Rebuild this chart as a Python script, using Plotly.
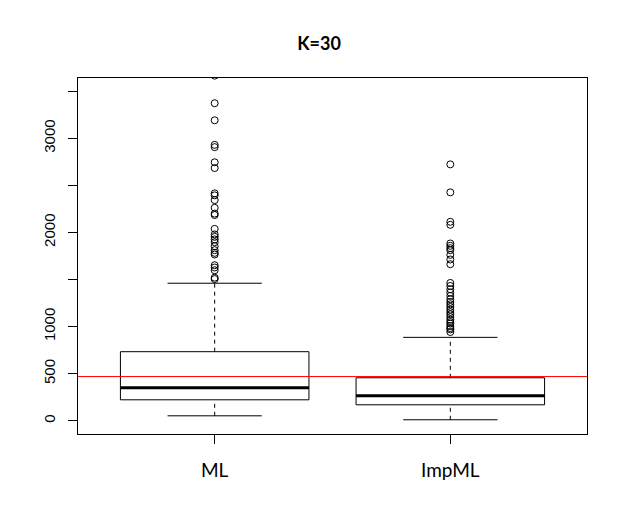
import plotly.graph_objects as go

# ---- data ----
categories = ["ML", "ImpML"]
q1 = [223, 170]
medians = [350, 266]
q3 = [734, 457]
lower_whisker = [53, 11]
upper_whisker = [1461, 886]

ml_outliers = [3665, 3372, 3191, 2930, 2906, 2745, 2684, 2415, 2394, 2344, 2262,
               2200, 2185, 2038, 1979, 1953, 1926, 1897, 1854, 1812, 1783, 1766,
               1652, 1628, 1599, 1520, 1505]
impml_outliers = [2723, 2426, 2113, 2081, 1883, 1858, 1833, 1812, 1762, 1713, 1663,
                  1464, 1432, 1397, 1362, 1326, 1290, 1262, 1237, 1209, 1181, 1155,
                  1131, 1102, 1074, 1049, 1032, 1006, 985, 971, 943]
outliers = [ml_outliers, impml_outliers]

reference_value = 470
title_text = "K=30"
y_tickvals = [0, 500, 1000, 1500, 2000, 2500, 3000, 3500]
y_ticktext = ["0", "500", "1000", "", "2000", "", "3000", ""]

# ---- styling constants ----
BOX_W = 0.8
CAP_HALF = BOX_W / 4
positions = [i + 1 for i in range(len(categories))]
FIG_W, FIG_H = 619, 524   # page body has an 8px margin

fig = go.Figure()

for i, pos in enumerate(positions):
    fig.add_trace(go.Box(
        x=[pos], q1=[q1[i]], median=[medians[i]], q3=[q3[i]],
        lowerfence=[q1[i]], upperfence=[q3[i]],
        width=BOX_W, whiskerwidth=0,
        line=dict(color="black", width=1),
        fillcolor="rgba(255,255,255,0)",
        boxpoints=False, hoverinfo="skip", showlegend=False,
    ))
    for a, b in ((q3[i], upper_whisker[i]), (lower_whisker[i], q1[i])):
        fig.add_trace(go.Scatter(
            x=[pos, pos], y=[a, b], mode="lines",
            line=dict(color="black", width=1, dash="4px,4px"),
            hoverinfo="skip", showlegend=False,
        ))
    for yv in (upper_whisker[i], lower_whisker[i]):
        fig.add_trace(go.Scatter(
            x=[pos - CAP_HALF, pos + CAP_HALF], y=[yv, yv], mode="lines",
            line=dict(color="black", width=1),
            hoverinfo="skip", showlegend=False,
        ))
    fig.add_trace(go.Scatter(
        x=[pos - BOX_W / 2, pos + BOX_W / 2], y=[medians[i], medians[i]], mode="lines",
        line=dict(color="black", width=3),
        hoverinfo="skip", showlegend=False,
    ))
    fig.add_trace(go.Scatter(
        x=[pos] * len(outliers[i]), y=outliers[i], mode="markers",
        marker=dict(symbol="circle-open", size=7, color="black", line=dict(width=1)),
        cliponaxis=True, hoverinfo="skip", showlegend=False,
    ))

fig.add_shape(type="line", xref="paper", x0=0, x1=1, yref="y",
              y0=reference_value, y1=reference_value,
              line=dict(color="red", width=1))

fig.update_layout(
    width=FIG_W, height=FIG_H,
    margin=dict(l=70, r=40, t=70, b=98),
    paper_bgcolor="white", plot_bgcolor="white",
    title=dict(text="<b>" + title_text + "</b>", x=(319 - 8) / FIG_W, xanchor="center",
               y=1 - (44 - 8) / FIG_H, yanchor="middle", xref="container", yref="container",
               font=dict(family="Lato", size=18, color="black")),
    xaxis=dict(
        range=[0.42, 2.58], tickvals=positions, ticktext=categories,
        showgrid=False, zeroline=False, showline=True, mirror=True,
        linecolor="black", linewidth=1, ticks="outside", ticklen=9,
        tickcolor="black", tickfont=dict(family="Lato", size=19, color="black"),
        ticklabelstandoff=10,
    ),
    yaxis=dict(
        range=[-140, 3640], tickvals=y_tickvals, ticktext=y_ticktext,
        showgrid=False, zeroline=False, showline=True, mirror=True,
        linecolor="black", linewidth=1, ticks="outside", ticklen=9,
        tickcolor="black", tickangle=-90,
        tickfont=dict(family="Liberation Sans", size=15, color="black"),
        ticklabelstandoff=7,
    ),
)

fig.write_html("out.html")
